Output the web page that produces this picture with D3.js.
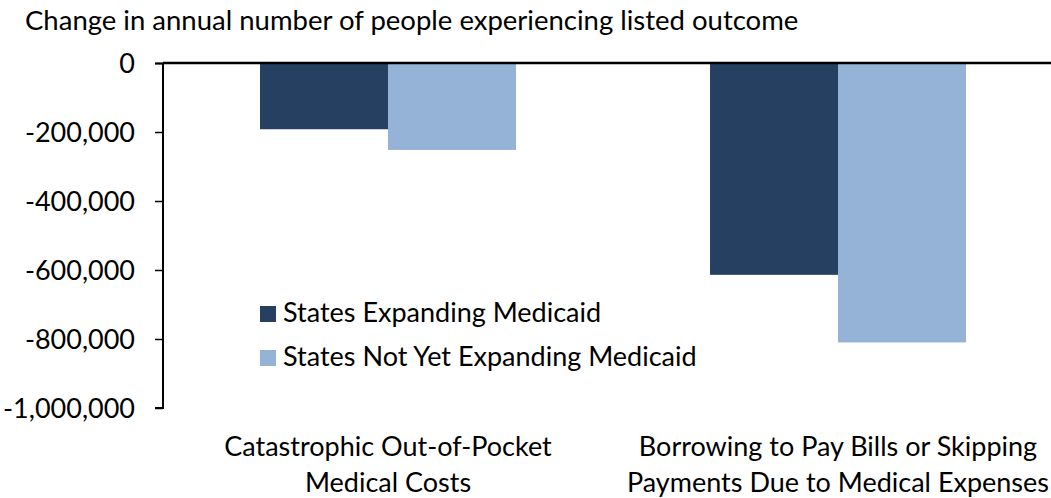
<!DOCTYPE html>
<html lang="en">
<head>
<meta charset="UTF-8">
<title>Medicaid outcomes</title>
<script src="https://d3js.org/d3.v7.min.js"></script>
<style>
    body, html { margin: 0; background: #fff; }
    text { font-family: Lato, "Open Sans", sans-serif; fill: #000; }
</style>
</head>
<body>
<div id="chart"></div>
<script>
// data
var categories = [
    ["Catastrophic Out-of-Pocket", "Medical Costs"],
    ["Borrowing to Pay Bills or Skipping", "Payments Due to Medical Expenses"]
];
var seriesNames = ["States Expanding Medicaid", "States Not Yet Expanding Medicaid"];
var expanding = [-192000, -614000];
var notExpanding = [-252000, -810000];
var yTicks = [0, -200000, -400000, -600000, -800000, -1000000];
var colors = ["#254061", "#95b3d7"];

var W = 1051, H = 498;
var FS = "27px";
var svg = d3.select("#chart").append("svg")
    .attr("width", W)
    .attr("height", H);

var y = d3.scaleLinear().domain([0, -1000000]).range([63, 408]);
var x0 = d3.scaleBand().domain(d3.range(categories.length)).range([163, 1063]);
// two bars of 128px in each 450px band
var x1 = d3.scaleBand().domain([0, 1]).range([0, x0.bandwidth()]).paddingInner(0).paddingOuter(0.758);

var rows = categories.map(function(c, i) { return [expanding[i], notExpanding[i]]; });

// bars
rows.forEach(function(vals, i) {
    svg.selectAll(null)
        .data(vals)
        .enter().append("rect")
        .attr("x", function(d, j) { return x0(i) + x1(j); })
        .attr("y", y(0))
        .attr("width", x1.bandwidth())
        .attr("height", function(d) { return y(d) - y(0); })
        .attr("fill", function(d, j) { return colors[j]; });
});

// y axis
var yAxis = d3.axisLeft(y).tickValues(yTicks).tickSize(8).tickPadding(20)
    .tickFormat(function(d) { return d === 0 ? "0" : d3.format(",")(d).replace("−", "-"); });
var ga = svg.append("g").attr("transform", "translate(163,0)").call(yAxis);
ga.select(".domain").attr("stroke", "#000").attr("stroke-width", 2).attr("d", "M-8,63.5H0V408H-8");
ga.selectAll(".tick line").attr("stroke", "#000").attr("stroke-width", 1.5);
ga.selectAll(".tick text").style("font-size", FS).attr("dy", "0.35em");

// zero baseline
svg.append("line")
    .attr("x1", 163).attr("x2", W)
    .attr("y1", y(0)).attr("y2", y(0))
    .attr("stroke", "#000").attr("stroke-width", 2.5);

// category labels
categories.forEach(function(lines, i) {
    var t = svg.append("text")
        .attr("text-anchor", "middle")
        .style("font-size", FS);
    lines.forEach(function(l, k) {
        t.append("tspan")
            .attr("x", x0(i) + x0.bandwidth() / 2)
            .attr("y", 456 + k * 36)
            .text(l);
    });
});

// title
svg.append("text")
    .attr("x", 25).attr("y", 30)
    .style("font-size", "27.5px")
    .text("Change in annual number of people experiencing listed outcome");

// legend
var legend = svg.append("g").attr("transform", "translate(260,322)");
seriesNames.forEach(function(name, i) {
    legend.append("rect")
        .attr("x", 0).attr("y", i * 44 - 16)
        .attr("width", 16).attr("height", 16)
        .attr("fill", colors[i]);
    legend.append("text")
        .attr("x", 23).attr("y", i * 44)
        .style("font-size", FS)
        .text(name);
});
</script>
</body>
</html>
